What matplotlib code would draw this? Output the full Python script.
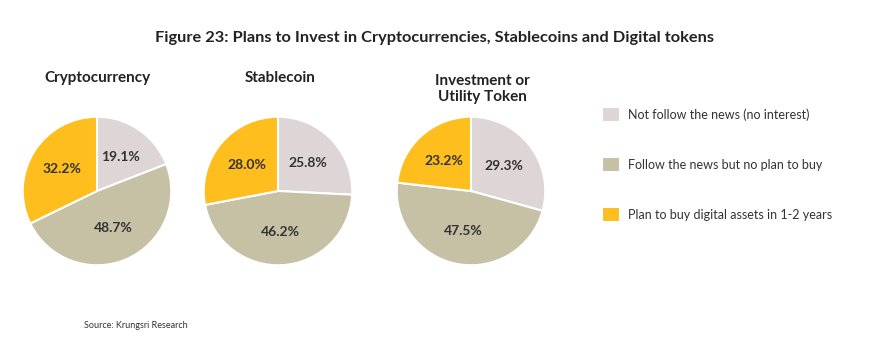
import matplotlib.pyplot as plt

plt.rcParams['font.family'] = ['Lato', 'DejaVu Sans']

# Data
categories = ['Not follow the news (no interest)',
              'Follow the news but no plan to buy',
              'Plan to buy digital assets in 1-2 years']
pie_titles = ['Cryptocurrency', 'Stablecoin', 'Investment or\nUtility Token']
crypto = [19.1, 48.7, 32.2]
stablecoin = [25.8, 46.2, 28.0]
token = [29.3, 47.5, 23.2]
series = [crypto, stablecoin, token]

colors = ['#DDD5D6', '#C6C0A5', '#FDBE1E']

fig = plt.figure(figsize=(8.7, 3.63), dpi=100)
fig.patch.set_facecolor('white')

fig.text(0.5, 0.895, 'Figure 23: Plans to Invest in Cryptocurrencies, Stablecoins and Digital tokens',
         ha='center', va='center', fontsize=11.8, fontweight='bold', color='#222222')

# pie centres / radius in pixels
centers_x = [97, 278, 471]
center_y = 191
radius = 75
title_x = [97, 280, 482]

wedges = None
for i, vals in enumerate(series):
    cx = centers_x[i]
    ax = fig.add_axes([(cx - radius) / 870, 1 - (center_y + radius) / 363,
                       2 * radius / 870, 2 * radius / 363])
    wedges, texts, autotexts = ax.pie(
        vals, colors=colors, startangle=90, counterclock=False,
        autopct='%.1f%%', pctdistance=0.55,
        wedgeprops=dict(edgecolor='white', linewidth=1.5),
        textprops=dict(fontsize=10, fontweight='bold', color='#333333'))
    ax.set_xlim(-1.01, 1.01)
    ax.set_ylim(-1.01, 1.01)
    t = pie_titles[i]
    y = 78 if '\n' not in t else 89
    fig.text(title_x[i] / 870, 1 - y / 363, t, ha='center', va='center',
             fontsize=11, fontweight='bold', color='#222222', linespacing=1.25)

fig.legend(wedges, categories, loc='upper left', bbox_to_anchor=(591 / 870, 1 - 96 / 363),
           frameon=False, fontsize=9, handlelength=1.4, handleheight=1.4,
           labelspacing=2.85, handletextpad=0.65, labelcolor='#333333')

fig.text(84 / 870, 1 - 326 / 363, 'Source: Krungsri Research', ha='left', va='center',
         fontsize=6.5, color='#333333')

fig.savefig('out.png', dpi=100, facecolor='white')
